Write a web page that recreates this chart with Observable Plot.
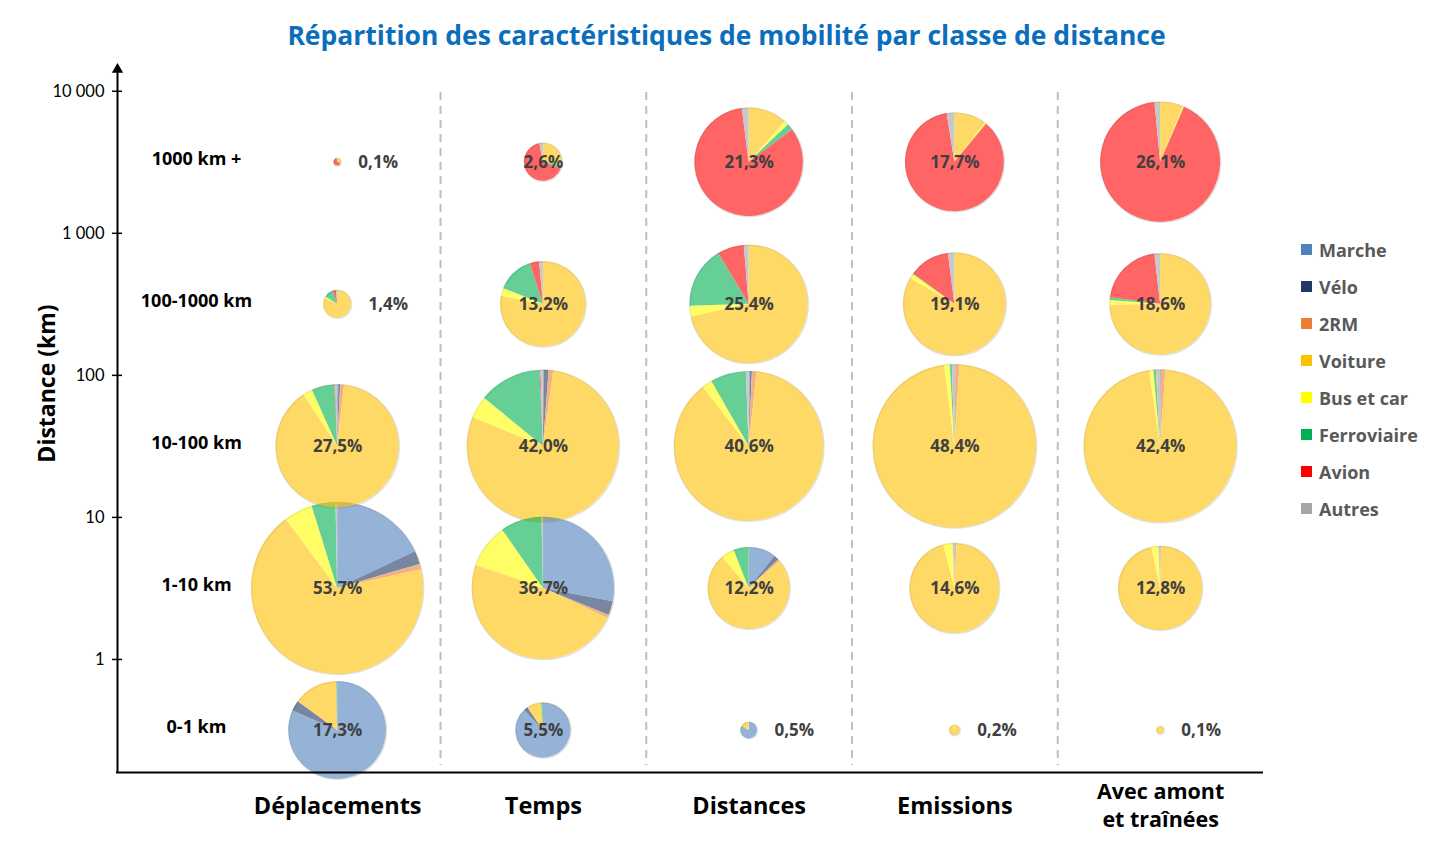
<!DOCTYPE html>
<html>
<head>
<meta charset="utf-8">
<script src="https://cdn.jsdelivr.net/npm/d3@7"></script>
<script src="https://cdn.jsdelivr.net/npm/@observablehq/plot@0.6"></script>
<style>
  html, body { margin: 0; padding: 0; background: #fff; overflow: hidden; }
  #wrap { position: relative; width: 1453px; height: 852px; }
  #chart { position: absolute; left: 0; top: 0; }
  #title { position: absolute; left: 0; top: 17px; width: 1453px; text-align: center;
           font: 700 26.5px "Open Sans", sans-serif; color: #0A6EBD; line-height: 36px; }
  #legend { position: absolute; left: 1301px; top: 231px; font: 700 18px "Open Sans", sans-serif; color: #595959; }
  #legend .item { height: 37px; display: flex; align-items: center; }
  #legend .sw { width: 11px; height: 11px; margin-right: 7px; flex: none; }
</style>
</head>
<body>
<div id="wrap">
  <div id="chart"></div>
  <div id="title">Répartition des caractéristiques de mobilité par classe de distance</div>
  <div id="legend"></div>
</div>
<script>
// ---------- DATA ----------
const columns = ["Déplacements", "Temps", "Distances", "Emissions", "Avec amont\net traînées"];
const rows = ["0-1 km", "1-10 km", "10-100 km", "100-1000 km", "1000 km +"];
const rowLo = [0.1, 1, 10, 100, 1000];
const rowHi = [1, 10, 100, 1000, 10000];
const yTicks = [1, 10, 100, 1000, 10000];

const modes = ["Marche", "Vélo", "2RM", "Voiture", "Bus et car", "Ferroviaire", "Avion", "Autres"];
const modeColors = ["#4F81BD", "#1F3864", "#ED7D31", "#FFC000", "#FFFF00", "#00B050", "#FF0000", "#A5A5A5"];

// share of each pie (% of total per distance class), rows: 0-1, 1-10, 10-100, 100-1000, 1000+
const totDeplacements = [17.3, 53.7, 27.5, 1.4, 0.1];
const totTemps        = [5.5, 36.7, 42.0, 13.2, 2.6];
const totDistances    = [0.5, 12.2, 40.6, 25.4, 21.3];
const totEmissions    = [0.2, 14.6, 48.4, 19.1, 17.7];
const totAmont        = [0.1, 12.8, 42.4, 18.6, 26.1];

// modal split inside each pie, order = modes
const shareDeplacements = [
  [81.5, 3.5, 0.2, 14.5, 0, 0.3, 0, 0],
  [18, 2.5, 1, 68.3, 5.4, 4.5, 0, 0.3],
  [0.3, 0.5, 1, 89, 2.5, 6, 0.2, 0.5],
  [0, 0, 0, 82, 2, 11, 4, 1],
  [0, 0, 0, 30, 0, 3, 65, 2]
];
const shareTemps = [
  [88, 2.5, 0, 8.5, 0, 1, 0, 0],
  [28, 3.2, 0.7, 48.4, 10, 9.4, 0, 0.3],
  [0.2, 1, 1, 79, 4.7, 13.4, 0.2, 0.5],
  [0, 0, 0, 78, 3, 14, 3.6, 1.4],
  [0, 0, 0, 28, 0, 3, 66, 3]
];
const shareDistances = [
  [82, 1, 0, 16, 1, 0, 0, 0],
  [10.8, 2, 0.8, 75.2, 5.2, 6, 0, 0],
  [0.3, 0.4, 1, 87.8, 2.2, 7.7, 0, 0.6],
  [0, 0, 0, 71.6, 2.9, 16.9, 7.3, 1.3],
  [0, 0, 0, 11.6, 1.3, 1.9, 83.2, 2]
];
const shareEmissions = [
  [0, 0, 2, 95, 3, 0, 0, 0],
  [0.3, 0, 0.5, 95.2, 3.4, 0, 0, 0.6],
  [0.1, 0.1, 0.8, 97, 1.1, 0.4, 0, 0.5],
  [0, 0, 0, 83.4, 1.5, 0.2, 12.9, 2],
  [0, 0, 0, 10.5, 0.5, 0, 86.5, 2.5]
];
const shareAmont = [
  [0, 0, 0, 97, 3, 0, 0, 0],
  [0, 0, 0.4, 96.2, 2.8, 0, 0, 0.6],
  [0.1, 0.1, 0.9, 96.6, 0.9, 0.5, 0, 0.9],
  [0, 0, 0, 74.7, 1.5, 0.9, 21.1, 1.8],
  [0, 0, 0, 6.2, 0.3, 0, 92, 1.5]
];

// ---------- BUILD TABLES ----------
const totals = [totDeplacements, totTemps, totDistances, totEmissions, totAmont];
const shares = [shareDeplacements, shareTemps, shareDistances, shareEmissions, shareAmont];
const rowCenter = rows.map((_, i) => Math.sqrt(rowLo[i] * rowHi[i]));
const pies = [], wedges = [];
columns.forEach((_, c) => rows.forEach((_, r) => {
  const total = totals[c][r];
  const s = shares[c][r];
  const sum = d3.sum(s);
  pies.push({c, yc: rowCenter[r], total, label: total.toFixed(1).replace(".", ",") + "%"});
  let a = 0;
  modes.forEach((m, k) => {
    if (s[k] > 0) {
      const a1 = a + s[k] / sum * 2 * Math.PI;
      wedges.push({key: c + "-" + r, c, yc: rowCenter[r], total, mode: m, a0: a, a1});
      a = a1;
    }
  });
}));
const smallPies = pies.filter(d => d.total < 2);
const bigPies = pies.filter(d => d.total >= 2);
const maxTotal = d3.max(pies, d => d.total);
// column label lines (multi-line labels split into separate texts)
const colLines = columns.flatMap((t, i) => {
  const parts = t.split("\n");
  return parts.map((line, j) => ({i, line, off: j - (parts.length - 1) / 2, multi: parts.length > 1}));
});

const xDomain = [-1.07, 4.5];
const yDomain = [0.16, 14000];
const W = 1453, H = 852, mL = 117, mR = 190, mT = 70, mB = 80;
const fmtTick = d => d3.format(",")(d).replace(/,/g, "\u00a0");

const pieRender = (index, scales, values) => {
  const g = d3.create("svg:g");
  const groups = new Map();
  const arc = d3.arc();
  for (const i of index) {
    const w = wedges[i];
    let pg = groups.get(w.key);
    if (!pg) {
      pg = g.append("g").attr("opacity", 0.6)
            .attr("transform", `translate(${values.x[i]},${values.y[i]})`);
      groups.set(w.key, pg);
    }
    pg.append("path")
      .attr("d", arc({innerRadius: 0, outerRadius: values.r[i], startAngle: w.a0, endAngle: w.a1}))
      .attr("fill", values.fill[i]);
  }
  return g.node();
};

const singleLines = colLines.filter(d => !d.multi);
const multiLines = colLines.filter(d => d.multi);

const chart = Plot.plot({
  width: W, height: H,
  marginLeft: mL, marginRight: mR, marginTop: mT, marginBottom: mB,
  x: {type: "linear", domain: xDomain, axis: null},
  y: {type: "log", domain: yDomain, axis: null},
  r: {type: "sqrt", domain: [0, maxTotal], range: [0, 86]},
  color: {domain: modes, range: modeColors},
  style: {fontFamily: "'Open Sans', sans-serif", color: "black", background: "white", overflow: "visible"},
  marks: [
    Plot.ruleX(columns.slice(1).map((_, i) => i + 0.5), {stroke: "#BFBFBF", strokeWidth: 2, strokeDasharray: "8,6", insetTop: 22, insetBottom: 7}),
    Plot.dot(pies, {x: "c", y: "yc", r: "total", stroke: "#d4d4d4", strokeWidth: 1.5, strokeOpacity: 0.7, fill: "none"}),
    Plot.dot(wedges, {x: "c", y: "yc", r: "total", fill: "mode", render: pieRender}),
    Plot.text(bigPies, {x: "c", y: "yc", text: "label", fill: "#404040", fontWeight: "bold", fontSize: 17}),
    Plot.text(smallPies, {x: "c", y: "yc", text: "label", fill: "#404040", fontWeight: "bold", fontSize: 17, textAnchor: "start",
      render(index, scales, values, dimensions, context, next) {
        const rs = scales.r || d3.scaleSqrt().domain([0, maxTotal]).range([0, 86]);
        const xs = Array.from(values.x, (x, i) => x + rs(smallPies[i].total) + 17);
        return next(index, scales, {...values, x: xs}, dimensions, context);
      }}),
    Plot.text(rows, {y: (d, i) => rowCenter[i], text: d => d, frameAnchor: "left", textAnchor: "middle", dx: 79, dy: -3, fontSize: 18, fontWeight: "bold", fill: "black"}),
    Plot.ruleX([xDomain[0]], {stroke: "black", strokeWidth: 2}),
    Plot.ruleY([yDomain[0]], {stroke: "black", strokeWidth: 2, insetLeft: -1}),
    Plot.dot([0], {frameAnchor: "top-left", symbol: "triangle", r: 4.2, fill: "black", dy: -1}),
    Plot.axisY({ticks: yTicks, tickSize: 5, tickPadding: 8, tickFormat: fmtTick, fontSize: 16.5, fontFamily: "Lato", strokeWidth: 1.5, label: null}),
    Plot.ruleY(yTicks, {y: d => d, stroke: "black", strokeWidth: 1.5, insetRight: W - mL - mR - 5}),
    Plot.text(singleLines, {x: "i", text: "line", frameAnchor: "bottom", lineAnchor: "middle", dy: 34, fontSize: 23.5, fontWeight: "bold", fill: "black"}),
    Plot.text(multiLines, {x: "i", text: "line", frameAnchor: "bottom", lineAnchor: "middle", dy: 34, fontSize: 21.5, fontWeight: "bold", fill: "black",
      render(index, scales, values, dimensions, context, next) {
        const ys = Array.from(index.length ? values.y || [] : [], v => v);
        const base = dimensions.height - dimensions.marginBottom;
        const yy = multiLines.map(d => base + d.off * 28);
        return next(index, scales, {...values, y: yy}, dimensions, context);
      }}),
    Plot.text(["Distance (km)"], {frameAnchor: "left", textAnchor: "middle", lineAnchor: "middle", dx: -70, dy: -38, rotate: -90, fontSize: 23, fontWeight: "bold", fill: "black"})
  ]
});
document.getElementById("chart").appendChild(chart);

// legend (HTML, built from modes/modeColors)
const lg = d3.select("#legend");
modes.forEach((m, i) => {
  const it = lg.append("div").attr("class", "item");
  it.append("div").attr("class", "sw").style("background", modeColors[i]);
  it.append("span").text(m);
});
</script>
</body>
</html>
